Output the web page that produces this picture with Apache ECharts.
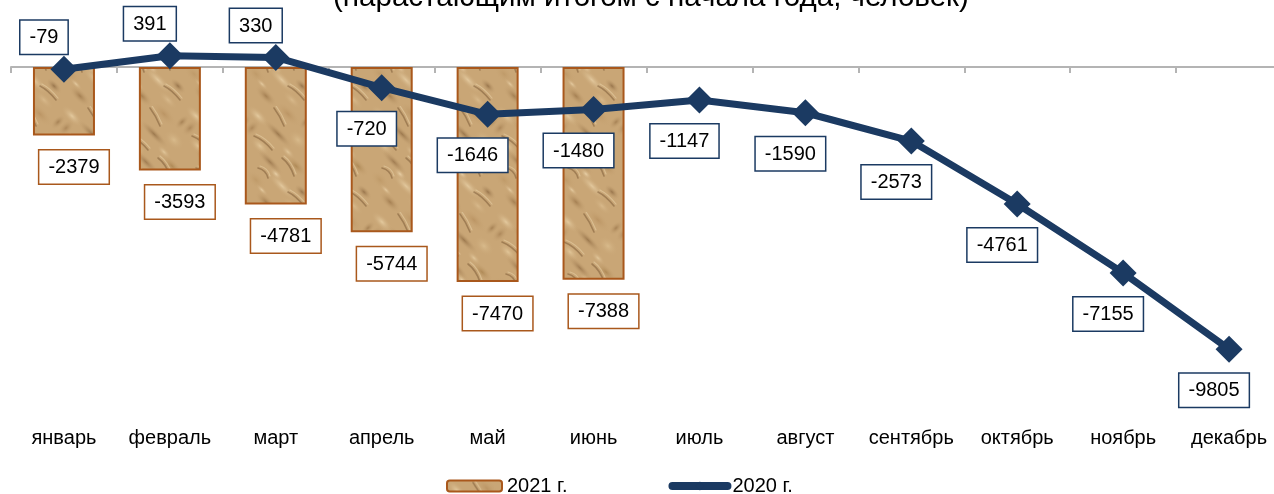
<!DOCTYPE html>
<html>
<head>
<meta charset="utf-8">
<script src="https://cdn.jsdelivr.net/npm/echarts@6/dist/echarts.min.js"></script>
<style>
html,body{margin:0;padding:0;background:#fff;}
#c{width:1274px;height:494px;}
</style>
</head>
<body>
<div id="c"></div>
<script>
const titleText = '(нарастающим итогом с начала года, человек)';
const categories = ['январь','февраль','март','апрель','май','июнь','июль','август','сентябрь','октябрь','ноябрь','декабрь'];
const values2021 = [-2379, -3593, -4781, -5744, -7470, -7388];
const values2020 = [-79, 391, 330, -720, -1646, -1480, -1147, -1590, -2573, -4761, -7155, -9805];
const seriesNames = ['2021 г.', '2020 г.'];

// decorative sand/stone texture for the bars (fixed blob layout, not data)
function makeTexture() {
  const W = 62, H = 106;
  const c = document.createElement('canvas');
  c.width = W; c.height = H;
  const g = c.getContext('2d');
  g.fillStyle = '#c9a676';
  g.fillRect(0, 0, W, H);
  const blobs = [
    [10, 10, 14, 6, '#e6cda2', 0.9], [40, 8, 16, 7, '#b89160', 0.8], [30, 28, 20, 5, '#7f5b34', 0.6],
    [12, 40, 12, 6, '#e3c89b', 0.9], [50, 34, 12, 8, '#dcbf90', 0.8], [22, 56, 18, 5, '#86613a', 0.6],
    [48, 60, 14, 6, '#a9834f', 0.8], [8, 74, 12, 7, '#bd9866', 0.8], [34, 80, 20, 6, '#e8d0a6', 0.8],
    [54, 86, 10, 5, '#7a5631', 0.6], [18, 96, 14, 6, '#967044', 0.7], [44, 100, 12, 5, '#dbbd8f', 0.8],
    [4, 22, 6, 10, '#9a7448', 0.6], [58, 16, 5, 9, '#8f6a3f', 0.6], [28, 68, 8, 4, '#efd9b2', 0.8],
    [40, 46, 9, 4, '#e7cea3', 0.8], [14, 84, 8, 3, '#efd8b0', 0.7]
  ];
  blobs.forEach(b => {
    for (let dx = -W; dx <= W; dx += W) {
      for (let dy = -H; dy <= H; dy += H) {
        g.save();
        g.translate(b[0] + dx, b[1] + dy);
        g.rotate(Math.PI / 4);
        const r = Math.max(b[2], b[3]);
        const rg = g.createRadialGradient(0, 0, 0, 0, 0, r);
        rg.addColorStop(0, b[4]);
        rg.addColorStop(1, 'rgba(201,166,118,0)');
        g.scale(b[2] / r, b[3] / r);
        g.globalAlpha = b[5];
        g.fillStyle = rg;
        g.beginPath(); g.arc(0, 0, r, 0, Math.PI * 2); g.fill();
        g.restore();
      }
    }
  });
  const cracks = [
    [[6, 30], [16, 34], [24, 44]], [[34, 52], [42, 58], [46, 70]], [[10, 62], [18, 64], [20, 72]],
    [[40, 86], [48, 90], [56, 100]], [[26, 2], [32, 10], [36, 20]]
  ];
  g.lineCap = 'round';
  cracks.forEach(p => {
    g.strokeStyle = 'rgba(110,78,44,0.45)';
    g.lineWidth = 1.6;
    g.beginPath(); g.moveTo(p[0][0], p[0][1]);
    g.quadraticCurveTo(p[1][0], p[1][1], p[2][0], p[2][1]); g.stroke();
    g.strokeStyle = 'rgba(240,220,180,0.45)';
    g.lineWidth = 1.2;
    g.beginPath(); g.moveTo(p[0][0] + 2, p[0][1] - 2);
    g.quadraticCurveTo(p[1][0] + 2, p[1][1] - 2, p[2][0] + 2, p[2][1] - 2); g.stroke();
  });
  g.globalAlpha = 1;
  return c;
}
const texture = makeTexture();

const font = 'Liberation Sans';
const navy = '#1b3a62';
const brown = '#a9581c';

const chart = echarts.init(document.getElementById('c'), null, {renderer: 'canvas'});
chart.setOption({
  animation: false,
  textStyle: {fontFamily: font},
  graphic: [{
    type: 'text', left: 333, top: -17,
    style: {text: titleText, font: '29.5px "Liberation Sans"', fill: '#000'}
  }],
  legend: {
    left: 446, top: 476, padding: 0,
    itemGap: 101, itemWidth: 55, itemHeight: 11, itemTextGap: 5,
    textStyle: {fontSize: 20, color: '#000', fontFamily: font},
    data: [
      {name: seriesNames[0]},
      {name: seriesNames[1], lineStyle: {width: 8, cap: 'round', color: navy}}
    ]
  },
  grid: {left: 11, top: 38.2, width: 1271, height: 345.4, containLabel: false, outerBoundsMode: 'none'},
  xAxis: [{
    type: 'category', data: categories, position: 'bottom',
    axisLine: {onZero: true, lineStyle: {color: '#b4b4b4', width: 2}},
    axisTick: {show: true, length: 6, lineStyle: {color: '#b4b4b4', width: 2}},
    axisLabel: {show: false},
    splitLine: {show: false}
  }, {
    type: 'category', data: categories, position: 'bottom',
    axisLine: {show: false, onZero: false},
    axisTick: {show: false},
    axisLabel: {show: true, margin: 45, fontSize: 20, color: '#000', fontFamily: font, interval: 0},
    splitLine: {show: false}
  }],
  yAxis: {
    type: 'value', min: -11000, max: 1000, show: false, splitLine: {show: false}
  },
  series: [{
    name: seriesNames[0], type: 'bar', data: values2021, barWidth: 62, xAxisIndex: 0,
    itemStyle: {color: {image: texture, repeat: 'repeat'}, borderColor: brown, borderWidth: 2},
    label: {
      show: true, position: 'bottom', distance: 15, offset: [10, 0],
      fontSize: 20, color: '#000', fontFamily: font,
      backgroundColor: '#fff', borderColor: brown, borderWidth: 1.5,
      padding: [7, 9, 6, 9]
    }
  }, {
    name: seriesNames[1], type: 'line', xAxisIndex: 0,
    data: values2020.map((v, i) => ({
      value: v,
      label: i < 3 ? {position: 'top', distance: 2, offset: [-20, 0]} : {position: 'bottom', distance: 11}
    })),
    symbol: 'diamond', symbolSize: 27,
    lineStyle: {color: navy, width: 7},
    itemStyle: {color: navy},
    z: 5,
    label: {
      show: true, offset: [-15, 0],
      fontSize: 20, color: '#000', fontFamily: font,
      backgroundColor: '#fff', borderColor: navy, borderWidth: 1.5,
      padding: [7, 9, 6, 9]
    }
  }]
});
</script>
</body>
</html>
